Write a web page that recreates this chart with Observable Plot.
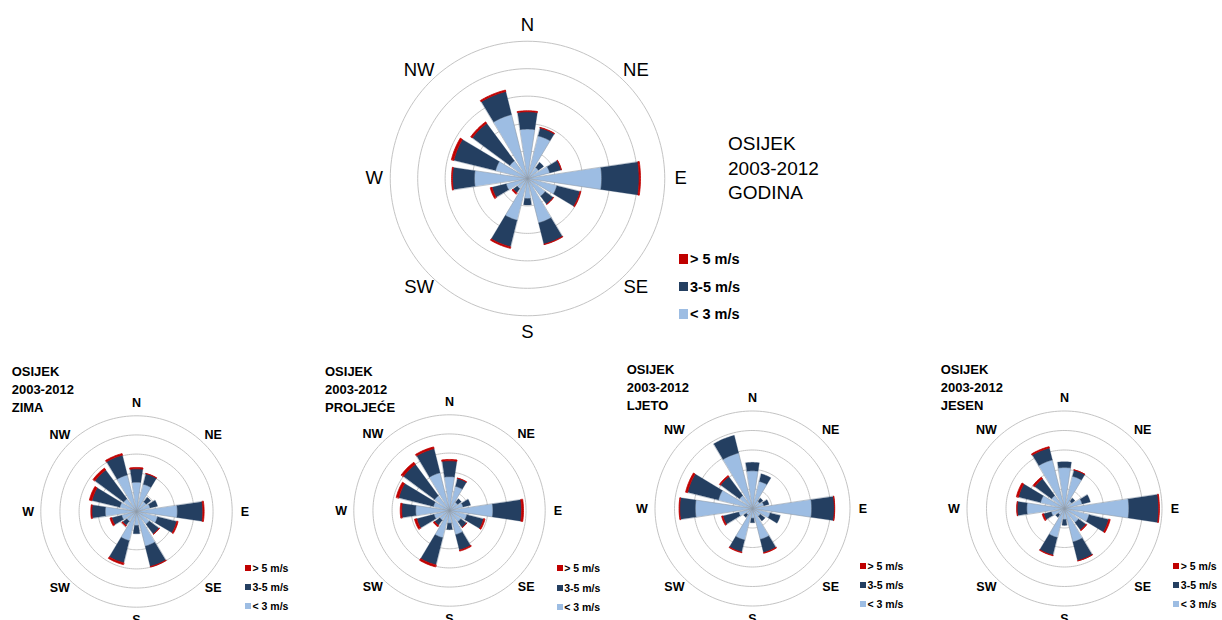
<!DOCTYPE html>
<html>
<head>
<meta charset="utf-8">
<script src="https://cdn.jsdelivr.net/npm/d3@7"></script>
<script src="https://cdn.jsdelivr.net/npm/@observablehq/plot@0.6"></script>
<style>
  html, body { margin: 0; padding: 0; background: #fff; }
  #wrap { position: relative; width: 1222px; height: 620px; overflow: hidden; font-family: Arial, "Liberation Sans", sans-serif; color: #000; }
  .rose { position: absolute; }
  .rose svg { display: block; max-width: none !important; overflow: visible; }
  .title { position: absolute; white-space: pre; }
  .legrow { position: absolute; display: flex; align-items: center; white-space: pre; }
  .sw { display: inline-block; }
</style>
</head>
<body>
<div id="wrap"></div>
<script>
// ---------- data ----------
const directions = ["N","NNE","NE","ENE","E","ESE","SE","SSE","S","SSW","SW","WSW","W","WNW","NW","NNW"];
const speedClasses = ["< 3 m/s", "3-5 m/s", "> 5 m/s"];
const classColors = ["#9dbde3", "#243f61", "#c00000"];
const compassPoints = ["N","NE","E","SE","S","SW","W","NW"];
const ringValues = [3, 6, 9, 12, 15];   // % frequency
const station = "OSIJEK";
const period = "2003-2012";
const seasons = ["GODINA", "ZIMA", "PROLJEĆE", "LJETO", "JESEN"];

// frequency (%) per direction, per speed class
const godinaBelow3 = [5.4,4.8,1.5,2.5,8.1,3.3,2.4,5.0,2.2,4.7,1.4,2.4,5.8,3.6,2.4,7.2];
const godina3to5   = [1.9,0.9,0.7,1.3,4.1,2.6,1.1,2.4,0.7,3.0,0.55,1.6,2.4,4.7,5.1,2.6];
const godinaAbove5 = [0.1,0.05,0,0.03,0.15,0.1,0.03,0.05,0,0.16,0.16,0.2,0.1,0.27,0.2,0.16];

const zimaBelow3 = [4.6,4.4,1.9,2.2,6.4,3.4,2.5,5.6,2.2,4.7,1.9,2.4,4.9,2.7,2.5,5.9];
const zima3to5   = [2.1,1.7,0.9,1.2,4.0,3.1,1.9,3.3,1.3,3.6,0.8,1.6,2.1,4.5,5.6,3.2];
const zimaAbove5 = [0.2,0.05,0,0,0.2,0.2,0.05,0.08,0,0.27,0.16,0.28,0.16,0.4,0.36,0.25];

const proljeceBelow3 = [5.3,3.9,1.6,2.2,6.8,2.8,2.2,3.9,2.0,4.4,1.9,2.5,5.3,2.6,2.9,6.1];
const proljece3to5   = [2.5,1.3,0.7,1.2,4.5,2.7,1.1,2.5,1.0,4.4,1.0,2.8,2.2,5.6,6.1,3.9];
const proljeceAbove5 = [0.2,0.03,0,0,0.3,0.22,0.05,0.16,0,0.3,0.24,0.35,0.22,0.4,0.4,0.27];

const ljetoBelow3 = [5.8,4.3,1.4,1.8,9.1,2.8,1.5,4.9,1.5,5.0,1.2,2.2,8.8,5.4,2.5,8.8];
const ljeto3to5   = [1.3,1.2,0.6,0.8,3.5,1.6,0.9,2.1,0.7,1.9,0.5,2.5,2.4,4.9,3.6,2.8];
const ljetoAbove5 = [0,0,0,0,0.05,0,0,0.1,0,0.1,0,0.2,0.1,0.3,0.2,0];

const jesenBelow3 = [6.3,5.1,1.4,2.8,9.9,3.9,2.7,5.3,1.7,4.6,1.2,2.1,5.8,3.8,2.5,7.7];
const jesen3to5   = [0.9,1.0,0.6,1.3,4.6,3.1,1.4,3.0,0.9,2.8,0.5,1.2,1.5,3.5,3.2,1.9];
const jesenAbove5 = [0,0.03,0,0,0.1,0.23,0.14,0.02,0,0.08,0,0.23,0.05,0.32,0.29,0.2];

// ---------- drawing ----------
const wrap = document.getElementById("wrap");
const FONT = 'Arial, "Liberation Sans", sans-serif';

function roseMarks(low, mid, high, labelR, labelSize, labelWeight) {
  const series = [low, mid, high];
  const halfW = 8.5 * Math.PI / 180;
  const steps = 12;
  const wedgePts = [[], [], []];
  directions.forEach((d, i) => {
    const theta = i * 2 * Math.PI / directions.length;
    let r0 = 0;
    series.forEach((s, c) => {
      const r1 = r0 + s[i];
      if (s[i] > 0) {
        const key = d + "-" + c;
        for (let k = 0; k <= steps; k++) {
          const a = theta - halfW + 2 * halfW * k / steps;
          wedgePts[c].push({key, x: r1 * Math.sin(a), y: r1 * Math.cos(a)});
        }
        if (r0 === 0) wedgePts[c].push({key, x: 0, y: 0});
        else for (let k = steps; k >= 0; k--) {
          const a = theta - halfW + 2 * halfW * k / steps;
          wedgePts[c].push({key, x: r0 * Math.sin(a), y: r0 * Math.cos(a)});
        }
      }
      r0 = r1;
    });
  });
  const ringPts = [];
  ringValues.forEach(rv => {
    for (let deg = 0; deg < 360; deg += 2) {
      const a = deg * Math.PI / 180;
      ringPts.push({ring: rv, x: rv * Math.sin(a), y: rv * Math.cos(a)});
    }
  });
  return [
    Plot.line(ringPts, {x: "x", y: "y", z: "ring", stroke: "#c4c4c4", strokeWidth: 1, curve: "linear-closed"}),
    Plot.line(wedgePts[0], {x: "x", y: "y", z: "key", fill: classColors[0], stroke: "#8e9aa8", strokeWidth: 0.6, curve: "linear-closed"}),
    Plot.line(wedgePts[1], {x: "x", y: "y", z: "key", fill: classColors[1], stroke: classColors[1], strokeWidth: 0.3, curve: "linear-closed"}),
    Plot.line(wedgePts[2], {x: "x", y: "y", z: "key", fill: classColors[2], stroke: classColors[2], strokeWidth: 0.8, curve: "linear-closed"}),
    Plot.text(compassPoints, {
      x: (d, i) => labelR * Math.sin(i * Math.PI / 4),
      y: (d, i) => labelR * Math.cos(i * Math.PI / 4),
      text: d => d, fill: "#000", fontSize: labelSize, fontWeight: labelWeight
    })
  ];
}

function addRose(opts) {
  const {cx, cy, k, half, low, mid, high, labelR, labelSize, labelWeight} = opts;
  const chart = Plot.plot({
    width: 2 * half, height: 2 * half, margin: 0,
    x: {domain: [-half / k, half / k], axis: null},
    y: {domain: [-half / k, half / k], axis: null},
    style: {background: "transparent", overflow: "visible", fontFamily: FONT},
    marks: roseMarks(low, mid, high, labelR, labelSize, labelWeight)
  });
  const div = document.createElement("div");
  div.className = "rose";
  div.style.left = (cx - half) + "px";
  div.style.top = (cy - half) + "px";
  div.appendChild(chart);
  wrap.appendChild(div);
}

function addTitle(season, left, top, size, weight, lineH) {
  const t = document.createElement("div");
  t.className = "title";
  t.style.left = left + "px"; t.style.top = top + "px";
  t.style.fontSize = size + "px"; t.style.fontWeight = weight; t.style.lineHeight = lineH + "px";
  t.textContent = station + "\n" + period + "\n" + season;
  wrap.appendChild(t);
}

function addLegend(left, centers, sq, gap, size) {
  [2, 1, 0].forEach((c, j) => {
    const row = document.createElement("div");
    row.className = "legrow";
    const lh = size * 1.3;
    row.style.left = left + "px";
    row.style.top = (centers[j] - lh / 2) + "px";
    row.style.height = lh + "px";
    row.style.fontSize = size + "px";
    row.style.fontWeight = "bold";
    const s = document.createElement("span");
    s.className = "sw";
    s.style.width = sq + "px"; s.style.height = sq + "px";
    s.style.background = classColors[c];
    s.style.marginRight = gap + "px";
    row.appendChild(s);
    row.appendChild(document.createTextNode(speedClasses[c]));
    wrap.appendChild(row);
  });
}

// Annual (large)
addRose({cx: 526.5, cy: 178, k: 9.15, half: 178, low: godinaBelow3, mid: godina3to5, high: godinaAbove5,
  labelR: 16.75, labelSize: 18.5, labelWeight: "normal"});
addTitle(seasons[0], 728, 132, 19, "normal", 24.7);
addLegend(678.5, [259, 286.7, 314], 9.5, 2, 14.5);

// Seasons (small)
const small = [
  {cx: 135.7, cy: 510.7, k: 6.38, low: zimaBelow3, mid: zima3to5, high: zimaAbove5, tl: 11.7, tt: 363, lg: 245, lc: [568, 587.5, 606]},
  {cx: 449, cy: 510, k: 6.38, low: proljeceBelow3, mid: proljece3to5, high: proljeceAbove5, tl: 325, tt: 363, lg: 556.7, lc: [568.3, 588, 607]},
  {cx: 751.7, cy: 507.7, k: 6.5, low: ljetoBelow3, mid: ljeto3to5, high: ljetoAbove5, tl: 626.7, tt: 360.8, lg: 860, lc: [565.7, 585, 604.3]},
  {cx: 1064, cy: 507.7, k: 6.5, low: jesenBelow3, mid: jesen3to5, high: jesenAbove5, tl: 940.7, tt: 360.8, lg: 1173.3, lc: [565.7, 585, 604.3]}
];
small.forEach((s, i) => {
  addRose({cx: s.cx, cy: s.cy, k: s.k, half: 128, low: s.low, mid: s.mid, high: s.high,
    labelR: 17.0, labelSize: 12.5, labelWeight: "bold"});
  addTitle(seasons[i + 1], s.tl, s.tt, 13, "bold", 18);
  addLegend(s.lg, s.lc, 6, 1.5, 10.5);
});
</script>
</body>
</html>
